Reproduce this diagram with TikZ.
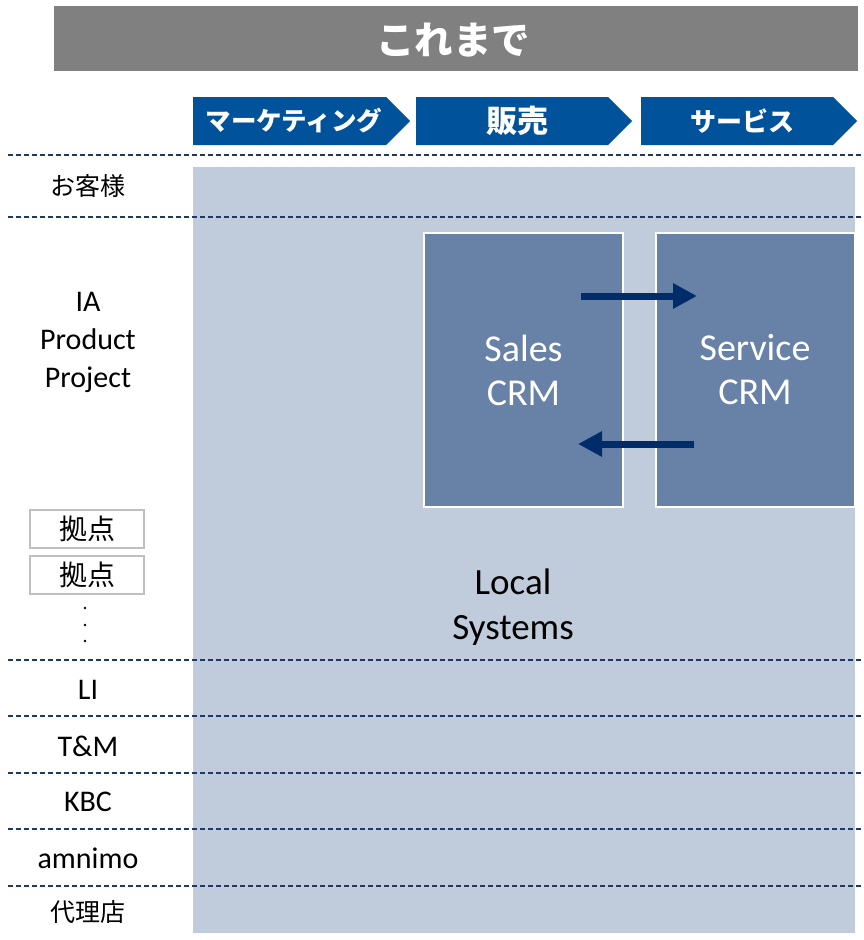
\documentclass[tikz,border=0pt]{standalone}
\usepackage{fontspec}
\setmainfont{Carlito}
\newfontfamily\cjk{Noto Sans CJK JP}
\usetikzlibrary{arrows.meta}
\definecolor{titlegray}{RGB}{128,128,128}
\definecolor{chevblue}{RGB}{0,82,155}
\definecolor{dashnavy}{RGB}{31,56,100}
\definecolor{bglight}{RGB}{192,204,220}
\definecolor{crmfill}{RGB}{103,129,167}
\definecolor{arrownavy}{RGB}{0,45,106}
\definecolor{boxgray}{RGB}{191,191,191}
\tikzset{
  sep/.style={draw=dashnavy, line width=1.4pt, dash pattern=on 5pt off 3pt},
  chev/.style={fill=chevblue, draw=none},
  chevtext/.style={text=white, font=\cjk\bfseries\fontsize{26}{30}\selectfont, inner sep=0pt, anchor=center},
  lbl/.style={font=\fontsize{30}{38}\selectfont, align=center, inner sep=0pt, anchor=center},
  jlbl/.style={font=\cjk\fontsize{25}{28}\selectfont, inner sep=0pt, anchor=center},
  crm/.style={fill=crmfill, draw=white, line width=2pt, minimum width=199pt, minimum height=274pt, inner sep=0pt,
     text=white, font=\fontsize{38}{44}\selectfont, align=center},
  kyoten/.style={draw=boxgray, line width=2pt, minimum width=114pt, minimum height=38pt, inner sep=0pt,
     font=\cjk\fontsize{28}{30}\selectfont},
  flow/.style={draw=arrownavy, line width=7pt, -{Triangle[length=24pt,width=24pt]}},
}
\begin{document}
\begin{tikzpicture}[x=1pt,y=-1pt]
\useasboundingbox (0,0) rectangle (864,940);
% title bar
\fill[titlegray] (54,6) rectangle (858,71);
\node[text=white, font=\cjk\bfseries\fontsize{38.5}{40}\selectfont, inner sep=0pt] (title) at (453,40) {これまで};
% chevrons
\path[chev] (193,97) -- (386,97) -- (410,121) -- (386,145) -- (193,145) -- cycle;
\path[chev] (416,97) -- (608,97) -- (632,121) -- (608,145) -- (416,145) -- cycle;
\path[chev] (641,97) -- (833,97) -- (857,121) -- (833,145) -- (641,145) -- cycle;
\node[chevtext, font=\cjk\bfseries\fontsize{25.5}{28}\selectfont] (c1) at (294,121) {マーケティング};
\node[chevtext, font=\cjk\bfseries\fontsize{31}{32}\selectfont] (c2) at (517,121) {販売};
\node[chevtext] (c3) at (742,121) {サービス};
% background
\fill[bglight] (193,167) rectangle (855,933);
% separators
\foreach \yy in {155,217,660,716,773,829,886} \draw[sep] (8,\yy) -- (864,\yy);
% CRM boxes
\node[crm] (sales) at (523.5,370) {Sales\\CRM};
\node[crm] (service) at (755,370) {Service\\CRM};
\coordinate (a1s) at (581,296);
\coordinate (a1e) at (697,296);
\coordinate (a2s) at (694,444);
\coordinate (a2e) at (578,444);
\draw[flow] (a1s) -- (a1e);
\draw[flow] (a2s) -- (a2e);
% Local systems
\node[lbl, font=\fontsize{37}{45}\selectfont] (local) at (513,607) {Local\\Systems};
% left labels
\node[jlbl] (okyaku) at (88,186) {お客様};
\node[lbl] (ia) at (88,342) {IA\\Product\\Project};
\node[kyoten] (k1) at (87,529) {拠点};
\node[kyoten] (k2) at (87,575) {拠点};
\foreach \yy [count=\i] in {608,625,641} \fill (85,\yy) circle (1.3pt) coordinate (dot\i);
\node[lbl] (li) at (88,690) {LI};
\node[lbl] (tm) at (88,746) {T\&M};
\node[lbl] (kbc) at (88,802) {KBC};
\node[lbl] (amnimo) at (88,858) {amnimo};
\node[jlbl] (dairi) at (88,912) {代理店};
\end{tikzpicture}
\end{document}
